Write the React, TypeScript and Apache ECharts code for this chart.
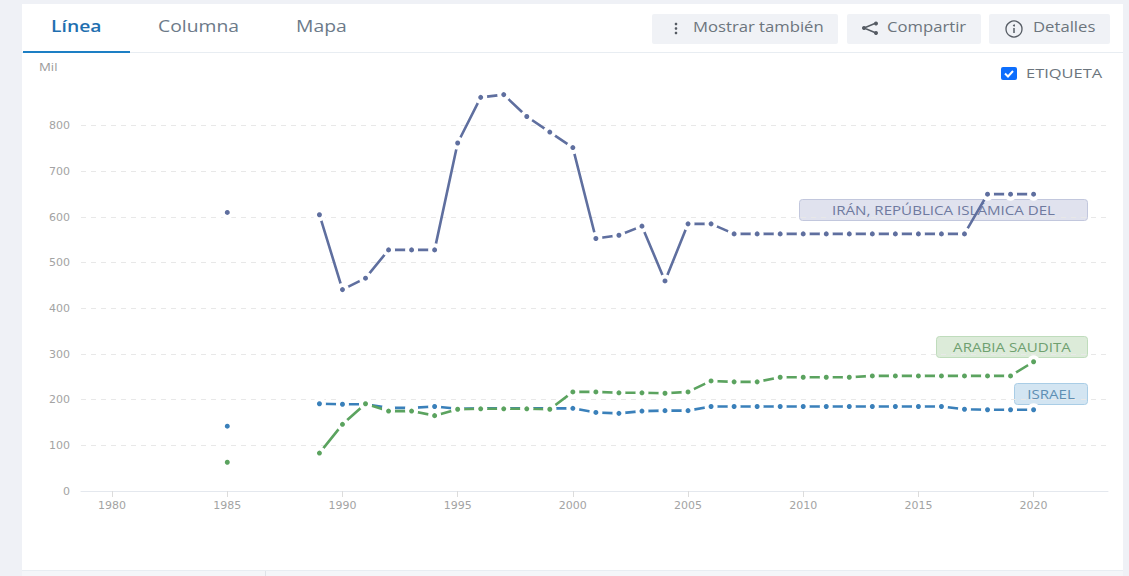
import React, { useEffect, useRef } from "react";
import * as echarts from "echarts";

const years = [1985, 1989, 1990, 1991, 1992, 1993, 1994, 1995, 1996, 1997, 1998, 1999, 2000, 2001, 2002, 2003, 2004, 2005, 2006, 2007, 2008, 2009, 2010, 2011, 2012, 2013, 2014, 2015, 2016, 2017, 2018, 2019, 2020];
const iran = [610, 605, 441, 466, 528, 528, 528, 762, 862, 868, 820, 786, 752, 553, 560, 580, 460, 585, 585, 563, 563, 563, 563, 563, 563, 563, 563, 563, 563, 563, 650, 650, 650];
const israel = [142, 191, 190, 190, 182, 182, 185, 180, 181, 181, 181, 181, 181, 172, 170, 175, 176, 176, 185, 185, 185, 185, 185, 185, 185, 185, 185, 185, 185, 179, 178, 178, 178];
const saudi = [63, 83, 146, 191, 175, 175, 165, 179, 180, 180, 180, 179, 217, 217, 215, 215, 214, 217, 241, 239, 239, 249, 249, 249, 249, 252, 252, 252, 252, 252, 252, 252, 283];
const xTicks = [1980, 1985, 1990, 1995, 2000, 2005, 2010, 2015, 2020];
const tabs = ["Línea", "Columna", "Mapa"];
const seriesNames = ["IRÁN, REPÚBLICA ISLÁMICA DEL", "ISRAEL", "ARABIA SAUDITA"];

const FONT = "'Open Sans', sans-serif";
const WIDE = "'DejaVu Sans', sans-serif";

function toPairs(values: number[]) {
  const out: (number | null)[][] = [];
  years.forEach((y, i) => {
    if (i > 0 && y - years[i - 1] > 1) out.push([y - 1, null]);
    out.push([y, values[i]]);
  });
  return out;
}

function line(name: string, values: number[], color: string) {
  return {
    name,
    type: "line",
    data: toPairs(values),
    connectNulls: false,
    showAllSymbol: true,
    symbol: "circle",
    symbolSize: 9,
    lineStyle: { color, width: 2.6 },
    itemStyle: { color, borderColor: "#ffffff", borderWidth: 4 },
  };
}

function tag(x: number, y: number, w: number, text: string, fill: string, stroke: string, color: string) {
  return {
    type: "group",
    z: 50,
    children: [
      { type: "rect", shape: { x, y, width: w, height: 21, r: 3 }, style: { fill, stroke, lineWidth: 1 } },
      { type: "text", x: x + w / 2, y: y + 10.5, scaleX: 1.21, style: { text, fill: color, font: `12.5px ${FONT}`, align: "center", verticalAlign: "middle" } },
    ],
  };
}

function button(x: number, w: number, text: string, textX: number) {
  return [
    { type: "rect", shape: { x, y: 14, width: w, height: 30, r: 2 }, style: { fill: "#f0f2f6" } },
    { type: "text", x: textX, y: 26.5, scaleX: 1.15, style: { text, fill: "#6c757d", font: `14.5px ${FONT}`, verticalAlign: "middle" } },
  ];
}

export default function App() {
  const ref = useRef<HTMLDivElement>(null);
  useEffect(() => {
    const chart = echarts.init(ref.current!, null, { renderer: "svg" });
    const iconColor = "#555b63";
    chart.setOption({
      animation: false,
      backgroundColor: "#ffffff",
      grid: { left: 81, right: 21, top: 80, bottom: 85, containLabel: false },
      xAxis: {
        type: "value",
        min: 1978.65,
        max: 2023.23,
        axisLine: { show: true, onZero: false, lineStyle: { color: "#e4e8ee", width: 1 } },
        axisTick: { show: true, customValues: xTicks, length: 6, lineStyle: { color: "#dcdcdc" } },
        axisLabel: { customValues: xTicks, color: "#a3a3a3", fontFamily: WIDE, fontSize: 11, margin: 9, formatter: (v: number) => String(v) },
        splitLine: { show: false },
      },
      yAxis: {
        type: "value",
        min: 0,
        max: 900,
        interval: 100,
        axisLine: { show: false },
        axisTick: { show: false },
        axisLabel: { color: "#a3a3a3", fontFamily: WIDE, fontSize: 11, margin: 11, showMaxLabel: false },
        splitLine: { show: true, showMaxLine: false, showMinLine: false, lineStyle: { color: "#e8e8e8", type: [5, 5], width: 1 } },
      },
      series: [
        line(seriesNames[0], iran, "#5f6f9f"),
        line(seriesNames[1], israel, "#3a80ba"),
        line(seriesNames[2], saudi, "#5ba35f"),
      ],
      graphic: [
        {
          type: "group",
          z: -10,
          silent: true,
          children: [
            { type: "rect", z: -10, shape: { x: 0, y: 0, width: 22, height: 576 }, style: { fill: "#eff1f6" } },
            { type: "rect", z: -10, shape: { x: 1123, y: 0, width: 6, height: 576 }, style: { fill: "#eff1f6" } },
            { type: "rect", z: -10, shape: { x: 0, y: 0, width: 1129, height: 4 }, style: { fill: "#eff1f6" } },
            { type: "rect", z: -10, shape: { x: 22, y: 571, width: 1101, height: 5 }, style: { fill: "#f4f6f9" } },
          ],
        },
        { type: "line", z: 1, shape: { x1: 22, y1: 52.5, x2: 1123, y2: 52.5 }, style: { stroke: "#e8edf2", lineWidth: 1 } },
        { type: "line", z: 1, shape: { x1: 22, y1: 570.5, x2: 1123, y2: 570.5 }, style: { stroke: "#e8edf2", lineWidth: 1 } },
        { type: "line", z: 1, shape: { x1: 265.5, y1: 571, x2: 265.5, y2: 576 }, style: { stroke: "#dfe3e8", lineWidth: 1 } },
        { type: "rect", z: 2, shape: { x: 23, y: 51, width: 107, height: 2 }, style: { fill: "#1d7fc4" } },
        { type: "text", x: 51, y: 25.5, scaleX: 1.21, style: { text: tabs[0], fill: "#1f6fb0", font: `600 16px ${FONT}`, verticalAlign: "middle" } },
        { type: "text", x: 158, y: 25.5, scaleX: 1.21, style: { text: tabs[1], fill: "#6c7a89", font: `16px ${FONT}`, verticalAlign: "middle" } },
        { type: "text", x: 296, y: 25.5, scaleX: 1.21, style: { text: tabs[2], fill: "#6c7a89", font: `16px ${FONT}`, verticalAlign: "middle" } },
        ...button(652, 186, "Mostrar también", 693),
        ...button(847, 134, "Compartir", 887),
        ...button(989, 121, "Detalles", 1033),
        { type: "circle", shape: { cx: 676, cy: 24, r: 1.3 }, style: { fill: iconColor } },
        { type: "circle", shape: { cx: 676, cy: 28.5, r: 1.3 }, style: { fill: iconColor } },
        { type: "circle", shape: { cx: 676, cy: 33, r: 1.3 }, style: { fill: iconColor } },
        { type: "polyline", shape: { points: [[876, 23], [864, 28], [876, 33]] }, style: { stroke: iconColor, fill: "none", lineWidth: 1.5 } },
        { type: "circle", shape: { cx: 876, cy: 23.5, r: 2 }, style: { fill: iconColor } },
        { type: "circle", shape: { cx: 864, cy: 28, r: 2 }, style: { fill: iconColor } },
        { type: "circle", shape: { cx: 876, cy: 33, r: 2 }, style: { fill: iconColor } },
        { type: "circle", shape: { cx: 1014, cy: 29, r: 8 }, style: { fill: "none", stroke: iconColor, lineWidth: 1.3 } },
        { type: "line", shape: { x1: 1014, y1: 28, x2: 1014, y2: 33 }, style: { stroke: iconColor, lineWidth: 1.5 } },
        { type: "circle", shape: { cx: 1014, cy: 25.5, r: 1 }, style: { fill: iconColor } },
        { type: "text", x: 39, y: 66.5, scaleX: 1.2, style: { text: "Mil", fill: "#9a9a9a", font: `11px ${FONT}`, verticalAlign: "middle" } },
        { type: "rect", shape: { x: 1001, y: 67, width: 16, height: 13, r: 2 }, style: { fill: "#0d6efd" } },
        { type: "polyline", shape: { points: [[1005, 73.5], [1008, 76.5], [1013, 71]] }, style: { stroke: "#ffffff", fill: "none", lineWidth: 2 } },
        { type: "text", x: 1026, y: 73, scaleX: 1.22, style: { text: "ETIQUETA", fill: "#6c757d", font: `13.5px ${FONT}`, verticalAlign: "middle" } },
        tag(799.5, 199.5, 288, seriesNames[0], "#e0e2ee", "#c2c7dd", "#6f7a9f"),
        tag(936.5, 336.5, 151, seriesNames[2], "#dcebd9", "#bfdcbc", "#6fa070"),
        tag(1014.5, 383.5, 73, seriesNames[1], "#d3e5f2", "#a9cde6", "#5f8fb3"),
      ],
    });
    return () => chart.dispose();
  }, []);
  return <div ref={ref} style={{ position: "fixed", left: 0, top: 0, width: 1129, height: 576 }} />;
}
